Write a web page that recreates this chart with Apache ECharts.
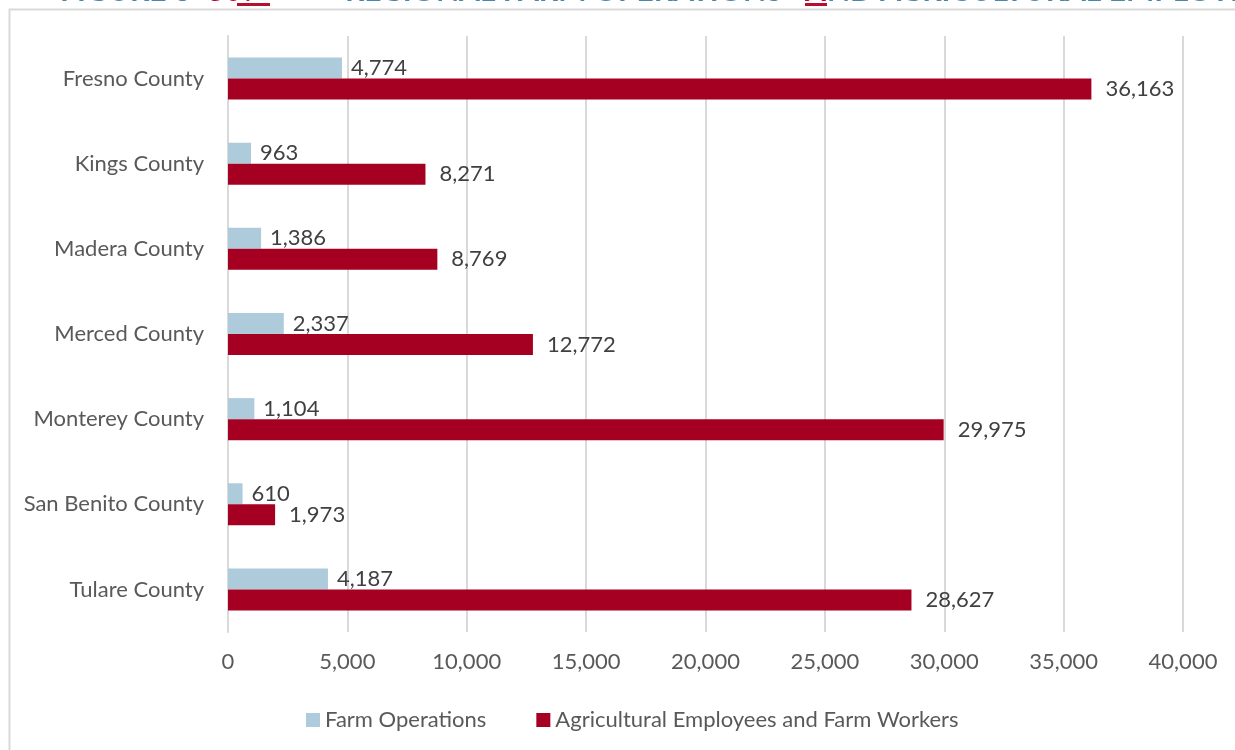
<!DOCTYPE html>
<html>
<head>
<meta charset="utf-8">
<script src="https://cdn.jsdelivr.net/npm/echarts@6/dist/echarts.min.js"></script>
<style>
  html, body { margin: 0; padding: 0; background: #fff; }
  #chart { width: 1235px; height: 750px; }
</style>
</head>
<body>
<div id="chart"></div>
<script>
// County names (top to bottom)
const counties = ['Fresno County', 'Kings County', 'Madera County', 'Merced County',
                  'Monterey County', 'San Benito County', 'Tulare County'];
// Number of farm operations per county
const farmOperations = [4774, 963, 1386, 2337, 1104, 610, 4187];
// Agricultural employees and farm workers per county
const farmWorkers = [36163, 8271, 8769, 12772, 29975, 1973, 28627];
// Value axis ticks
const axisMax = 40000;
const axisStep = 5000;

const FONT = 'Lato, "Open Sans", sans-serif';
const fmt = v => v.toLocaleString('en-US');

const chart = echarts.init(document.getElementById('chart'), null, { renderer: 'canvas' });

const titleBlue = '#4a86a8';
const titleRed = '#c0002a';
const titleFont = 'bold 30px ' + FONT;

// heading pieces sitting above the chart frame
function headingPiece(text, x, fill) {
  return { type: 'text', x: x, y: 6, silent: true,
           style: { text: '{t|' + text + '}', textVerticalAlign: 'bottom', verticalAlign: 'bottom',
                    font: titleFont, fill: fill,
                    rich: { t: { fill: fill, font: titleFont } } } };
}

chart.setOption({
  backgroundColor: '#ffffff',
  animation: false,
  textStyle: { fontFamily: FONT },
  graphic: [
    // chart frame
    { type: 'rect', left: 7, top: 7, shape: { width: 1300, height: 800 },
      style: { fill: 'none', stroke: '#d9d9d9', lineWidth: 2 }, silent: true, z: -1 },
    headingPiece('FIGURE 6-', 60, titleBlue),
    headingPiece('30?', 207, titleRed),
    headingPiece('REGIONAL FARM OPERATIONS', 345, titleBlue),
    headingPiece('A', 805, titleRed),
    headingPiece('ND AGRICULTURAL EMPLOYMENT', 827, titleBlue),
    { type: 'rect', shape: { x: 237, y: 3, width: 33, height: 3 }, style: { fill: '#b5102f' } },
    { type: 'rect', shape: { x: 805, y: 3, width: 22, height: 3 }, style: { fill: '#b5102f' } }
  ],
  legend: {
    top: 704,
    left: 301,
    itemWidth: 14,
    itemHeight: 14,
    itemGap: 50,
    icon: 'rect',
    textStyle: { fontSize: 22, color: '#595959', fontFamily: FONT },
    data: ['Farm Operations', 'Agricultural Employees and Farm Workers']
  },
  grid: { left: 228, right: 52, top: 36, bottom: 118, containLabel: false },
  xAxis: {
    type: 'value',
    min: 0,
    max: axisMax,
    interval: axisStep,
    axisLine: { show: false },
    axisTick: { show: false },
    splitLine: { lineStyle: { color: '#d9d9d9', width: 2 } },
    axisLabel: { fontSize: 22, color: '#595959', margin: 19, fontFamily: FONT,
                 formatter: v => fmt(v) }
  },
  yAxis: {
    type: 'category',
    data: counties,
    inverse: true,
    axisLine: { show: true, lineStyle: { color: '#d9d9d9', width: 2 } },
    axisTick: { show: false },
    axisLabel: { fontSize: 22, color: '#595959', margin: 24, fontFamily: FONT }
  },
  series: [
    {
      name: 'Farm Operations',
      type: 'bar',
      data: farmOperations,
      barWidth: 21,
      barGap: '0%',
      itemStyle: { color: '#aecbdc' },
      label: { show: true, position: 'right', distance: 9, fontSize: 22,
               color: '#404040', fontFamily: FONT, formatter: p => fmt(p.value) }
    },
    {
      name: 'Agricultural Employees and Farm Workers',
      type: 'bar',
      data: farmWorkers,
      barWidth: 21,
      itemStyle: { color: '#a50021' },
      label: { show: true, position: 'right', distance: 14, fontSize: 22,
               color: '#404040', fontFamily: FONT, formatter: p => fmt(p.value) }
    }
  ]
});
</script>
</body>
</html>
